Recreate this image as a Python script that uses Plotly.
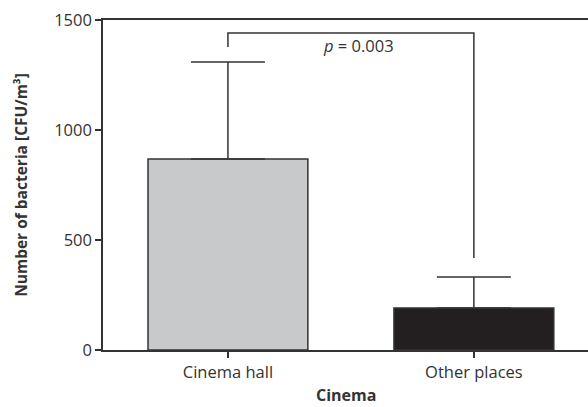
import plotly.graph_objects as go

# Mean bacterial counts with upper SD whiskers
categories = ["Cinema hall", "Other places"]
means = [868, 191]
sd_upper = [441, 141]
bar_colors = ["#c8c9cb", "#231f20"]

# Significance bracket (data units) and label
bracket_x = [0, 0, 1, 1]
bracket_y = [1377, 1441, 1441, 418]
p_label = "<i>p</i> = 0.003"
p_label_x = 0.53
p_label_y = 1383

y_ticks = [0, 500, 1000, 1500]

ink = "#333333"
font_family = "Open Sans"

fig = go.Figure()
fig.add_trace(go.Bar(
    x=[0, 1],
    y=means,
    marker=dict(color=bar_colors, line=dict(color=ink, width=1.5)),
    error_y=dict(type="data", symmetric=False, array=sd_upper,
                 arrayminus=[0, 0], color=ink, thickness=1.5, width=37),
    showlegend=False,
))
fig.add_trace(go.Scatter(
    x=bracket_x, y=bracket_y, mode="lines",
    line=dict(color=ink, width=1.5), showlegend=False, hoverinfo="skip",
))
fig.add_annotation(x=p_label_x, y=p_label_y, text=p_label, showarrow=False,
                   font=dict(family=font_family, size=16.5, color=ink))

# x-axis title placed as a paper annotation so it can sit near the bottom edge
fig.add_annotation(x=0.5, y=-0.1727, xref="paper", yref="paper",
                   text="<b>Cinema</b>", showarrow=False, yanchor="bottom",
                   borderpad=0,
                   font=dict(family=font_family, size=16, color=ink))

fig.update_layout(
    width=588, height=407,
    margin=dict(l=103, r=0, t=20, b=57),
    plot_bgcolor="white", paper_bgcolor="white",
    bargap=0.35,
    font=dict(family=font_family, size=16.5, color=ink),
)
fig.update_xaxes(
    range=[-0.508, 1.464], tickvals=[0, 1], ticktext=categories,
    showline=True, linecolor=ink, linewidth=1.5, mirror=True,
    ticks="outside", ticklen=6, tickwidth=1.5, tickcolor=ink,
    showgrid=False, zeroline=False,
)
fig.update_yaxes(
    range=[0, 1500], tickvals=y_ticks,
    showline=True, linecolor=ink, linewidth=1.5,
    ticks="outside", ticklen=6, tickwidth=1.5, tickcolor=ink,
    showgrid=False, zeroline=False,
    title=dict(text="<b>Number of bacteria [CFU/m³]</b>", font=dict(size=15.5), standoff=23),
)

fig.write_html("out.html")
